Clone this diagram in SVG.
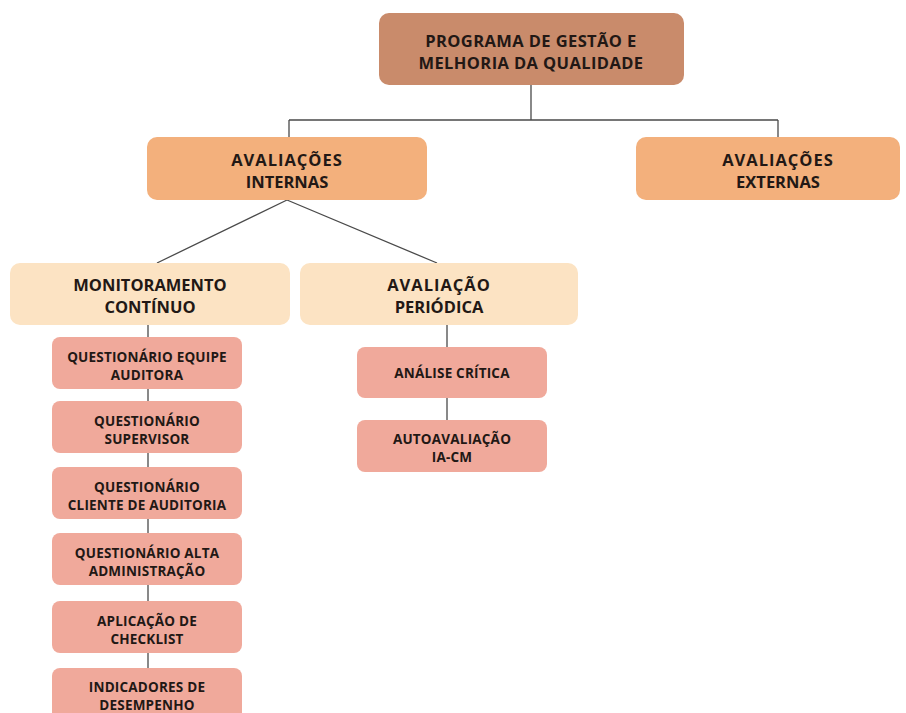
<svg xmlns="http://www.w3.org/2000/svg" width="906" height="713" viewBox="0 0 906 713">
<style>
text{font-family:"Open Sans","Lato","Liberation Sans",sans-serif;font-weight:bold;fill:#221815;text-anchor:middle}
.t1{font-size:16.5px;letter-spacing:0.4px}
.t2{font-size:16.5px}
.t3{font-size:13.5px;letter-spacing:0.2px}
.n0{fill:#c98b6b}
.n1{fill:#f3b07c}
.n2{fill:#fce3c3}
.n3{fill:#f0a99b}
.c{stroke:#4a4a4a;stroke-width:1.3;fill:none}
</style>
<rect width="906" height="713" fill="#ffffff"/>
<g id="connectors">
<path class="c" d="M531 85V120M289 120H778M289 120V137M778 120V137"/>
<path class="c" d="M287 200L157 263M287 200L437 263"/>
<path class="c" d="M148 325V668"/>
<path class="c" d="M447 325V420"/>
</g>
<g id="n-programa"><rect class="n0" x="379" y="13" width="305" height="72" rx="10"/><text class="t1" x="531" y="47">PROGRAMA DE GESTÃO E</text><text class="t1" x="531" y="69">MELHORIA DA QUALIDADE</text></g>
<g id="n-internas"><rect class="n1" x="147" y="137" width="280" height="63" rx="10"/><text class="t2" x="287" y="166" letter-spacing="1">AVALIAÇÕES</text><text class="t2" x="287" y="188">INTERNAS</text></g>
<g id="n-externas"><rect class="n1" x="636" y="137" width="264" height="63" rx="10"/><text class="t2" x="778" y="166" letter-spacing="1">AVALIAÇÕES</text><text class="t2" x="778" y="188">EXTERNAS</text></g>
<g id="n-monitoramento"><rect class="n2" x="10" y="263" width="280" height="62" rx="10"/><text class="t2" x="150" y="291">MONITORAMENTO</text><text class="t2" x="150" y="313">CONTÍNUO</text></g>
<g id="n-periodica"><rect class="n2" x="300" y="263" width="278" height="62" rx="10"/><text class="t2" x="439" y="291" letter-spacing="1">AVALIAÇÃO</text><text class="t2" x="439" y="313">PERIÓDICA</text></g>
<g id="n-analise"><rect class="n3" x="357" y="347" width="190" height="51" rx="8"/><text class="t3" x="452" y="378">ANÁLISE CRÍTICA</text></g>
<g id="n-autoavaliacao"><rect class="n3" x="357" y="420" width="190" height="52" rx="8"/><text class="t3" x="452" y="444">AUTOAVALIAÇÃO</text><text class="t3" x="452" y="462">IA-CM</text></g>
<g id="n-q-equipe"><rect class="n3" x="52" y="337" width="190" height="52" rx="8"/><text class="t3" x="147" y="362">QUESTIONÁRIO EQUIPE</text><text class="t3" x="147" y="380">AUDITORA</text></g>
<g id="n-q-supervisor"><rect class="n3" x="52" y="401" width="190" height="52" rx="8"/><text class="t3" x="147" y="426">QUESTIONÁRIO</text><text class="t3" x="147" y="444">SUPERVISOR</text></g>
<g id="n-q-cliente"><rect class="n3" x="52" y="467" width="190" height="52" rx="8"/><text class="t3" x="147" y="492">QUESTIONÁRIO</text><text class="t3" x="147" y="510">CLIENTE DE AUDITORIA</text></g>
<g id="n-q-alta"><rect class="n3" x="52" y="533" width="190" height="52" rx="8"/><text class="t3" x="147" y="558">QUESTIONÁRIO ALTA</text><text class="t3" x="147" y="576">ADMINISTRAÇÃO</text></g>
<g id="n-checklist"><rect class="n3" x="52" y="601" width="190" height="52" rx="8"/><text class="t3" x="147" y="626">APLICAÇÃO DE</text><text class="t3" x="147" y="644">CHECKLIST</text></g>
<g id="n-indicadores"><rect class="n3" x="52" y="668" width="190" height="52" rx="8"/><text class="t3" x="147" y="692">INDICADORES DE</text><text class="t3" x="147" y="710">DESEMPENHO</text></g>
</svg>
